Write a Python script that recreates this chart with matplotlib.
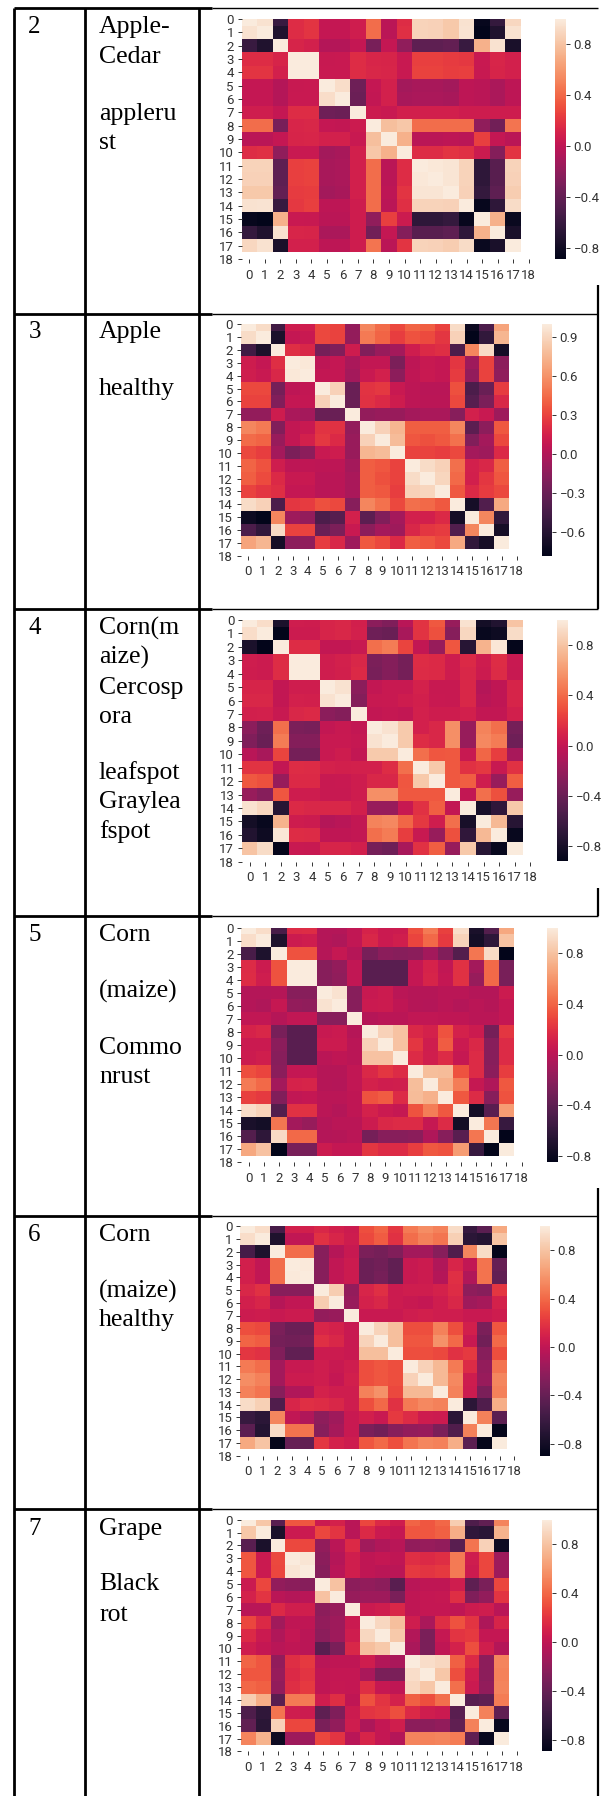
import matplotlib
matplotlib.use("Agg")
import matplotlib.pyplot as plt
import numpy as np
import seaborn as sns
import logging
logging.getLogger("matplotlib.font_manager").setLevel(logging.ERROR)

W, H = 608, 1796
TICK_FONT = ["Liberation Sans Narrow", "Roboto", "DejaVu Sans"]
TEXT_FONT = ["Liberation Serif", "DejaVu Serif"]

# upper triangles of the correlation matrices, row by row, without the diagonal
apple_cedar = [
 [.95,-.6,.17,.2,.03,.03,.08,.42,-.02,.17,.88,.87,.83,.95,-.85,-.62,.9],
 [-.72,.17,.2,.03,.03,.08,.42,-.02,.18,.88,.87,.83,.96,-.88,-.72,.95],
 [.12,.1,-.05,-.05,.03,-.3,.03,-.2,-.42,-.42,-.4,-.6,.72,.95,-.75],
 [1,.04,.05,.17,.13,.12,.05,.25,.25,.23,.22,.05,.13,.1],
 [.05,.05,.17,.14,.13,.05,.26,.26,.24,.25,.04,.12,.1],
 [.93,-.35,.03,.1,-.12,-.1,-.1,-.12,0,-.02,-.08,0],
 [-.36,.02,.1,-.1,-.08,-.08,-.1,0,-.02,-.08,0],
 [.06,.05,.09,.09,.09,.09,.07,.07,.07,.07],
 [.78,.82,.42,.42,.42,.42,-.2,-.33,.45],
 [.72,-.02,-.02,0,-.02,.25,.03,-.02],
 [.17,.17,.2,.18,.06,-.25,.2],
 [.98,.97,.88,-.65,-.45,.88],
 [.97,.88,-.65,-.45,.87],
 [.87,-.62,-.42,.85],
 [-.85,-.65,.92],
 [.72,-.83],
 [-.75],
]
apple_healthy = [
 [.93,-.48,.12,.13,.32,.3,-.12,.55,.45,.32,.42,.4,.3,.93,-.72,-.42,.68],
 [-.65,.08,.1,.32,.3,-.12,.5,.42,.28,.36,.33,.25,.88,-.78,-.55,.75],
 [.22,.18,-.25,-.2,.12,-.2,-.1,-.05,.13,.2,.22,-.42,.55,.92,-.68],
 [.98,.05,.08,-.03,.07,.07,-.22,.05,.09,.08,.25,-.08,.3,-.15],
 [.07,.08,-.05,.1,.15,-.15,.06,.1,.08,.27,-.12,.3,-.14],
 [.88,-.3,.24,.26,.1,.05,.03,.03,.35,-.42,-.3,.27],
 [-.3,.23,.2,.12,.05,.04,.04,.32,-.38,-.22,.18],
 [-.12,-.1,-.1,-.05,-.03,-.03,-.17,.15,.1,-.08],
 [.88,.75,.4,.4,.4,.55,-.35,-.15,.38],
 [.78,.37,.35,.38,.47,-.2,-.05,.32],
 [.3,.3,.28,.32,-.05,-.08,.2],
 [.93,.88,.46,.15,.18,.4],
 [.9,.44,.14,.25,.37],
 [.38,.2,.27,.32],
 [-.68,-.4,.7],
 [.55,-.55],
 [-.68],
]
corn_cercospora = [
 [.93,-.78,.06,.05,.1,.12,.07,-.25,-.3,-.05,.18,.33,-.2,.95,-.82,-.75,.8],
 [-.92,.04,.04,.1,.12,.08,-.38,-.4,-.12,.18,.3,-.27,.9,-.88,-.85,.92],
 [.15,.15,0,0,.02,.42,.47,.25,0,-.2,.32,-.72,.72,.97,-.9],
 [1,.06,.08,.12,-.32,-.28,-.35,.15,.13,.05,.13,.05,.15,.03],
 [.06,.07,.13,-.33,-.28,-.35,.14,.13,.05,.12,.04,.14,.02],
 [.95,-.25,0,.03,.03,.09,.02,.02,.12,-.07,-.02,.1],
 [-.28,.02,.03,.05,.07,.03,.02,.12,-.05,-.02,.1],
 [0,.01,0,.08,.05,.05,.07,0,0,.07],
 [.95,.83,.08,.12,.55,-.2,.5,.42,-.35],
 [.83,.15,.12,.55,-.2,.52,.47,-.38],
 [.42,.32,.33,.02,.38,.22,-.12],
 [.82,.33,.17,.2,.02,.17],
 [.33,.35,.06,-.2,.35],
 [0,.42,.3,-.2],
 [-.8,-.68,.82],
 [.75,-.72],
 [-.88],
]
corn_rust = [
 [.93,-.5,.17,.18,-.03,-.03,.03,.13,.07,.08,.32,.48,.27,.93,-.72,-.45,.68],
 [-.7,.08,.09,-.03,-.05,.03,.15,.07,.1,.28,.42,.24,.88,-.75,-.62,.8],
 [.33,.33,-.02,.05,-.02,-.28,-.2,-.22,-.2,-.1,-.25,-.45,.47,.92,-.85],
 [1,-.22,-.17,.03,-.42,-.42,-.42,.04,.13,.03,.2,-.1,.42,-.28],
 [-.22,-.18,.03,-.42,-.42,-.42,.04,.14,.04,.2,-.15,.42,-.28],
 [.95,-.22,.06,.08,0,-.02,-.02,0,0,-.03,-.03,.08],
 [-.22,.07,.08,.02,-.02,-.03,0,-.03,0,-.02,.04],
 [-.02,0,0,.03,.03,.02,.02,0,0,.04],
 [.87,.8,.16,.12,.33,.12,.08,-.3,.22],
 [.8,.22,.09,.37,.07,.16,-.22,.17],
 [.17,.1,.17,.05,.17,-.22,.17],
 [.78,.77,.33,.17,-.2,.25],
 [.72,.5,.05,-.05,.35],
 [.35,.17,-.22,.33],
 [-.75,-.42,.63],
 [.47,-.58],
 [-.85],
]
corn_healthy = [
 [.93,-.55,.08,.08,.13,.08,.05,.3,.38,.2,.47,.55,.5,.92,-.62,-.45,.68],
 [-.75,0,0,.18,.12,.06,.28,.35,.18,.42,.5,.45,.86,-.68,-.72,.8],
 [.42,.42,-.25,-.05,.03,-.3,-.33,-.28,-.13,-.13,-.25,-.5,.52,.92,-.88],
 [.99,-.25,0,.05,-.38,-.35,-.42,.03,.05,-.07,.12,0,.44,-.4],
 [-.25,0,.05,-.38,-.33,-.42,.03,.05,-.06,.17,-.07,.44,-.42],
 [.85,-.2,.12,.17,.05,.07,.07,.1,.16,-.22,-.25,.2],
 [-.18,.1,.13,.05,.03,.02,.07,.13,-.15,-.12,.1],
 [.04,.04,.04,.07,.08,.07,.07,.04,.04,.06],
 [.88,.78,.3,.3,.5,.3,.08,-.3,.33],
 [.78,.33,.33,.57,.4,.04,-.35,.4],
 [.3,.3,.28,.18,.22,-.25,.3],
 [.87,.75,.47,.15,-.2,.45],
 [.75,.53,.06,-.18,.52],
 [.5,.05,-.3,.5],
 [-.68,-.5,.7],
 [.5,-.45],
 [-.88],
]
grape_black_rot = [
 [.82,-.45,.33,.33,.05,.1,-.03,.27,.15,.07,.38,.33,.4,.85,-.5,-.42,.52],
 [-.75,.05,.05,.27,.2,-.03,.15,.05,.02,.33,.33,.37,.7,-.65,-.68,.72],
 [.28,.27,-.2,-.02,.15,-.13,-.07,-.03,-.2,-.18,-.2,-.45,.45,.87,-.82],
 [.97,-.23,-.05,.08,0,.02,0,.17,.15,.17,.47,.07,.27,-.15],
 [-.25,-.03,.08,0,-.02,-.02,.22,.2,.22,.47,.06,.27,-.15],
 [.8,-.22,-.2,-.22,-.45,-.03,0,0,.07,-.43,-.3,.27],
 [-.18,-.15,-.15,-.3,0,.02,.03,.17,-.28,-.2,.2],
 [.05,.07,.13,0,.02,.02,0,.06,.07,-.03],
 [.9,.78,.07,-.1,.17,.32,.2,-.08,.12],
 [.83,-.06,-.3,.03,.2,.22,.02,.02],
 [-.1,-.3,0,.1,.3,.08,-.05],
 [.93,.9,.37,.15,-.22,.52],
 [.82,.3,.07,-.22,.5],
 [.43,.05,-.2,.52],
 [-.45,-.42,.48],
 [.5,-.42],
 [-.85],
]
colour_minimum = [-.88, -.78, -.92, -.85, -.90, -.89]
colour_ticks = [
 [-.8, -.4, 0, .4, .8],
 [-.6, -.3, 0, .3, .6, .9],
 [-.8, -.4, 0, .4, .8],
 [-.8, -.4, 0, .4, .8],
 [-.8, -.4, 0, .4, .8],
 [-.8, -.4, 0, .4, .8],
]
row_numbers = ["2", "3", "4", "5", "6", "7"]
row_texts = [
 ["Apple-", "Cedar", "appleru", "st"],
 ["Apple", "healthy"],
 ["Corn(m", "aize)", "Cercosp", "ora", "leafspot", "Graylea", "fspot"],
 ["Corn", "(maize)", "Commo", "nrust"],
 ["Corn", "(maize)", "healthy"],
 ["Grape", "Black", "rot"],
]
row_text_baseline = [
 [33.3, 62.6, 120, 149.3],
 [338.3, 395.3],
 [634.3, 663.3, 694, 723.3, 779, 808.3, 837.6],
 [941.3, 997.3, 1054, 1083.3],
 [1241.3, 1297.3, 1326.3],
 [1535, 1590.3, 1621],
]
heat_boxes = [  # left, right, top, bottom of the cells; colourbar left, right, bottom
 (241.5, 521, 19, 252.3, 554.7, 566, 258.5),
 (240.7, 509.3, 324.3, 549.3, 542, 552, 555.5),
 (241.9, 522.5, 620, 855, 556.6, 567.8, 861.5),
 (241, 514, 927.7, 1155.7, 547, 558, 1162.3),
 (240.3, 507, 1226.3, 1449.3, 539.5, 549.6, 1455.7),
 (240.7, 509.3, 1519.7, 1745, 542, 552.3, 1751.2),
]
matrices = [apple_cedar, apple_healthy, corn_cercospora, corn_rust, corn_healthy, grape_black_rot]


def full_matrix(upper):
    m = np.eye(18)
    for i, row in enumerate(upper):
        for k, v in enumerate(row):
            m[i, i + 1 + k] = v
            m[i + 1 + k, i] = v
    return m


fig = plt.figure(figsize=(W / 100, H / 100), dpi=100, facecolor="white")
bg = fig.add_axes([0, 0, 1, 1])
bg.set_xlim(0, W)
bg.set_ylim(H, 0)
bg.axis("off")

# table rules
thick, thin = 2.0, 1.0
rows_y = [8, 313.5, 609, 915.7, 1215.7, 1509]
for x in (14, 85, 198.8):
    bg.plot([x, x], [8, H], color="black", lw=thick, solid_capstyle="butt")
for y in rows_y:
    bg.plot([14, 212], [y, y], color="black", lw=thick, solid_capstyle="butt")
    bg.plot([212, 598], [y, y], color="black", lw=thin, solid_capstyle="butt")
for y0, y1 in [(285, 313.5), (313.5, 609), (888, 916), (1188, 1216), (1216, 1509), (1509, H)]:
    bg.plot([598, 598], [y0, y1], color="black", lw=thick * .8, solid_capstyle="butt")

for num, lines, ys in zip(row_numbers, row_texts, row_text_baseline):
    bg.text(28.3, ys[0], num, family=TEXT_FONT, fontsize=18, ha="left", va="baseline", color="black")
    for s, y in zip(lines, ys):
        bg.text(99, y, s, family=TEXT_FONT, fontsize=18.5, ha="left", va="baseline", color="black")

cmap = sns.color_palette("rocket", as_cmap=True)
labels = [str(i) for i in range(19)]
for upper, vmin, cticks, box in zip(matrices, colour_minimum, colour_ticks, heat_boxes):
    l, r, t, b, cl, cr, cb = box
    cw = (r - l) / 18
    ch = (b - t) / 17.5          # the top row is cut in half, as in the reference
    ax = fig.add_axes([l / W, 1 - (t + 18 * ch) / H, 18.5 * cw / W, 18 * ch / H])
    m = full_matrix(upper)
    mesh = ax.pcolormesh(np.arange(19), np.arange(19) - .5, m, cmap=cmap, vmin=vmin, vmax=1, linewidth=0)
    ax.set_xlim(0, 18.5)
    ax.set_ylim(18, 0)
    for s in ax.spines.values():
        s.set_visible(False)
    ax.set_xticks(np.arange(19) + .5, labels)
    ax.set_yticks(np.arange(19), labels)
    ax.tick_params(length=3, width=.7, color="#333333", labelsize=9.5, labelcolor="#333333", pad=2.5)
    for tl in ax.get_xticklabels() + ax.get_yticklabels():
        tl.set_family(TICK_FONT)
    ax.tick_params(axis="x", pad=4)
    cax = fig.add_axes([cl / W, 1 - cb / H, (cr - cl) / W, (cb - t) / H])
    cbar = fig.colorbar(mesh, cax=cax)
    cbar.outline.set_visible(False)
    cbar.set_ticks(cticks, labels=[f"{v:.1f}".replace("-", "\u2212") for v in cticks])
    cax.tick_params(length=3, width=.7, color="#333333", labelsize=9.5, labelcolor="#333333", pad=2.5)
    for tl in cax.get_yticklabels():
        tl.set_family(TICK_FONT)

fig.savefig("out.png", dpi=100)
